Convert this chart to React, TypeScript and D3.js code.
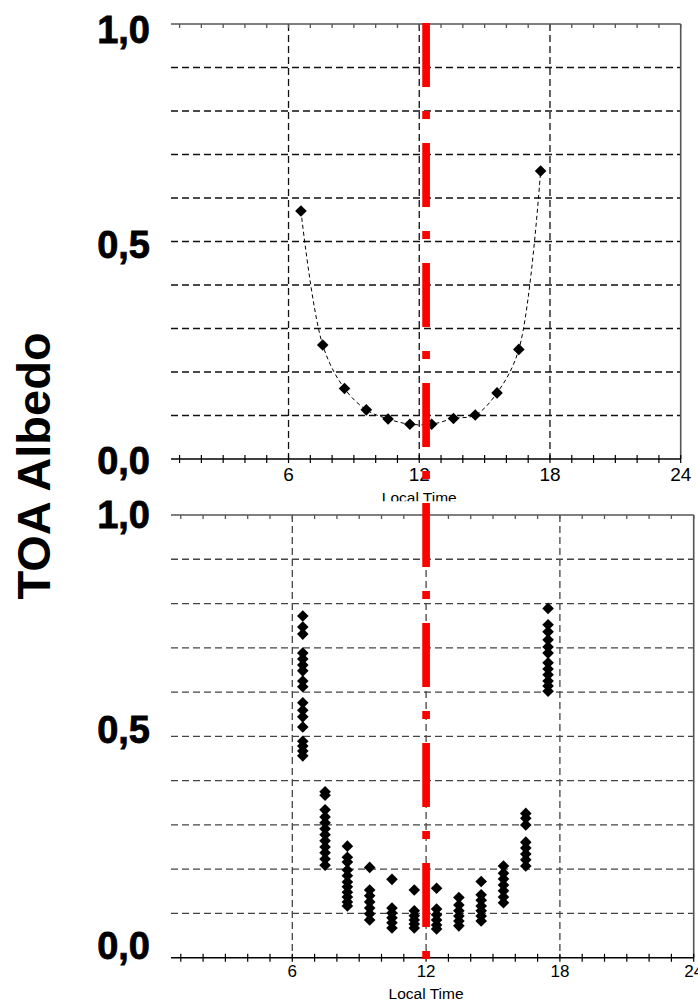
import React from 'react';
import * as d3 from 'd3';

// ---------- data ----------
const xTickHours = [6, 12, 18, 24];
const xTickLabels = ['6', '12', '18', '24'];
const minorTickHours = d3.range(1, 25);
const gridHours = [6, 12, 18];
const gridAlbedo = [0.1, 0.2, 0.3, 0.4, 0.5, 0.6, 0.7, 0.8, 0.9];
const yTickValues = [1.0, 0.5, 0.0];
const yTickLabels = ['1,0', '0,5', '0,0'];
const xAxisTitle = 'Local Time';
const yAxisTitle = 'TOA Albedo';
const noonHour = 12;

// top panel: mean diurnal albedo
const topHours = [6.57, 7.57, 8.57, 9.57, 10.57, 11.57, 12.57, 13.57, 14.57, 15.57, 16.57, 17.57];
const topAlbedo = [0.570, 0.262, 0.162, 0.113, 0.092, 0.080, 0.080, 0.093, 0.101, 0.152, 0.252, 0.662];

// bottom panel: individual albedo samples per hourly slot
const bottomHours = [6.47, 7.47, 8.47, 9.47, 10.47, 11.47, 12.47, 13.47, 14.47, 15.47, 16.47, 17.47];
const bottomAlbedo = [
  [0.772, 0.747, 0.731, 0.688, 0.675, 0.661, 0.648, 0.625, 0.612, 0.576, 0.559, 0.544, 0.521, 0.489, 0.478, 0.467, 0.456],
  [0.375, 0.367, 0.334, 0.318, 0.305, 0.291, 0.278, 0.264, 0.250, 0.237, 0.223, 0.209],
  [0.252, 0.227, 0.216, 0.198, 0.185, 0.171, 0.160, 0.148, 0.137, 0.126, 0.117],
  [0.204, 0.153, 0.140, 0.126, 0.112, 0.099, 0.085],
  [0.177, 0.112, 0.101, 0.090, 0.079, 0.067],
  [0.153, 0.106, 0.095, 0.085, 0.076, 0.067],
  [0.157, 0.110, 0.097, 0.085, 0.074, 0.065],
  [0.136, 0.119, 0.106, 0.094, 0.083, 0.072],
  [0.172, 0.142, 0.130, 0.117, 0.106, 0.094, 0.083],
  [0.207, 0.191, 0.178, 0.164, 0.151, 0.137, 0.124],
  [0.326, 0.315, 0.300, 0.261, 0.248, 0.234, 0.221, 0.207],
  [0.789, 0.752, 0.736, 0.718, 0.702, 0.688, 0.666, 0.652, 0.639, 0.625, 0.614, 0.602],
];

// ---------- layout ----------
const W = 698;
const H = 1002;
const PLOT_LEFT = 171;

const topLayout = {
  x0: 157.8, x24: 680.7, yBottom: 459, yTop: 24,
  grid: '#111', frame: '#555', tickFont: 19, tickBaseline: 21.5,
  yLabelShift: [5, 2.5, 1], markerR: 5.8, titleBaseline: 503, titleClip: 501.5,
};
const bottomLayout = {
  x0: 158.5, x24: 693.7, yBottom: 957.7, yTop: 515,
  grid: '#444', frame: '#555', tickFont: 17, tickBaseline: 19,
  yLabelShift: [-1, -7, -12], markerR: 5.8, titleBaseline: 998.5, titleClip: 1002,
};

function diamond(cx: number, cy: number, r: number) {
  const p = d3.path();
  p.moveTo(cx, cy - r);
  p.lineTo(cx + r, cy);
  p.lineTo(cx, cy + r);
  p.lineTo(cx - r, cy);
  p.closePath();
  return p.toString();
}

type PanelProps = { L: any; id: string; children?: (x: any, y: any) => React.ReactNode };

function Panel({ L, id, children }: PanelProps) {
  const x = d3.scaleLinear().domain([0, 24]).range([L.x0, L.x24]);
  const y = d3.scaleLinear().domain([0, 1]).range([L.yBottom, L.yTop]);
  const right = x(24);
  const dash = '7 4';
  return (
    <g>
      <defs>
        <clipPath id={id + '-titleclip'}>
          <rect x={0} y={0} width={W} height={L.titleClip} />
        </clipPath>
      </defs>
      {gridAlbedo.map((v) => (
        <line key={'h' + v} x1={PLOT_LEFT} x2={right} y1={y(v)} y2={y(v)}
          stroke={L.grid} strokeWidth={1.3} strokeDasharray={dash} />
      ))}
      {gridHours.map((h) => (
        <line key={'v' + h} x1={x(h)} x2={x(h)} y1={y(1)} y2={y(0)}
          stroke={L.grid} strokeWidth={1.3} strokeDasharray={dash} />
      ))}
      <line x1={PLOT_LEFT} x2={right} y1={y(1)} y2={y(1)} stroke={L.frame} strokeWidth={1.6} />
      <line x1={right} x2={right} y1={y(1)} y2={y(0)} stroke={L.frame} strokeWidth={1.6} />
      {minorTickHours.map((h) => (
        <line key={'tt' + h} x1={x(h)} x2={x(h)} y1={y(1)} y2={y(1) + 4}
          stroke={L.frame} strokeWidth={1.3} />
      ))}
      <line x1={PLOT_LEFT} x2={right} y1={y(0)} y2={y(0)} stroke="#000" strokeWidth={1.4} />
      {minorTickHours.map((h) => (
        <line key={'bt' + h} x1={x(h)} x2={x(h)} y1={y(0) - 4} y2={y(0) + 4}
          stroke="#000" strokeWidth={1.2} />
      ))}
      {xTickHours.map((h, i) => (
        <text key={'xl' + h} x={x(h)} y={y(0) + L.tickBaseline} textAnchor="middle"
          fontFamily="'Liberation Sans', Arial, sans-serif" fontSize={L.tickFont} fill="#000">
          {xTickLabels[i]}
        </text>
      ))}
      <text x={x(12)} y={L.titleBaseline} textAnchor="middle" clipPath={`url(#${id}-titleclip)`}
        fontFamily="'Liberation Sans', Arial, sans-serif" fontSize={15.5} fill="#000">
        {xAxisTitle}
      </text>
      {yTickValues.map((v, i) => (
        <text key={'yl' + v} x={150} y={y(v) + L.yLabelShift[i] + 13.5} textAnchor="end"
          fontFamily="'Liberation Sans', Arial, sans-serif" fontWeight="bold" fontSize={38}
          fill="#000" stroke="#000" strokeWidth={0.8}>
          {yTickLabels[i]}
        </text>
      ))}
      {children && children(x, y)}
    </g>
  );
}

export default function App() {
  return (
    <svg width={W} height={H} style={{ position: 'absolute', left: 0, top: 0, background: '#fff' }}
      xmlns="http://www.w3.org/2000/svg">
      <rect x={0} y={0} width={W} height={H} fill="#fff" />
      <Panel L={topLayout} id="top">
        {(x, y) => {
          const pts = topHours.map((h, i) => [x(h), y(topAlbedo[i])] as [number, number]);
          const line = d3.line().curve(d3.curveCatmullRom.alpha(0.5));
          return (
            <g>
              <path d={line(pts) || ''} fill="none" stroke="#000" strokeWidth={1} strokeDasharray="4 3" />
              {pts.map((p, i) => (
                <path key={i} d={diamond(p[0], p[1], topLayout.markerR)} fill="#000" />
              ))}
            </g>
          );
        }}
      </Panel>
      <rect x={0} y={topLayout.titleClip} width={W} height={H - topLayout.titleClip} fill="#fff" />
      <Panel L={bottomLayout} id="bottom">
        {(x, y) => (
          <g>
            {bottomHours.map((h, i) =>
              bottomAlbedo[i].map((v, j) => (
                <path key={i + '-' + j} d={diamond(x(h), y(v), bottomLayout.markerR)} fill="#000" />
              ))
            )}
          </g>
        )}
      </Panel>
      {(() => {
        const xb = d3.scaleLinear().domain([0, 24]).range([bottomLayout.x0, bottomLayout.x24]);
        return (
          <line x1={xb(noonHour)} x2={xb(noonHour)} y1={23} y2={959}
            stroke="#ff0000" strokeWidth={7.7} strokeDasharray="64 24 8 24" />
        );
      })()}
      <text transform="translate(50,466) rotate(-90)" textAnchor="middle"
        fontFamily="'Liberation Sans', Arial, sans-serif" fontWeight="bold" fontSize={47} fill="#000">
        {yAxisTitle}
      </text>
    </svg>
  );
}
